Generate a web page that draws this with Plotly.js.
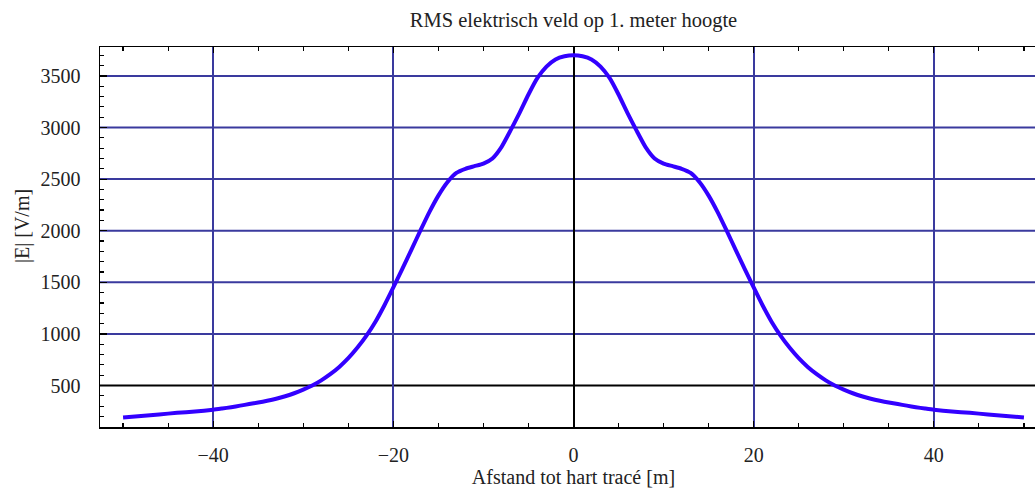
<!DOCTYPE html>
<html>
<head>
<meta charset="utf-8">
<script src="https://cdn.plot.ly/plotly-3.0.1.min.js"></script>
<style>
html, body { margin: 0; padding: 0; overflow: hidden; background: #fff; }
#chart { width: 1047px; height: 490px; }
</style>
</head>
<body>
<div id="chart"></div>
<script>
// Distance from line centre [m]
const afstand = [-50, -48, -46, -44, -42, -40, -39, -38, -37, -36, -35, -34, -33, -32, -31, -30,
  -29, -28, -27, -26, -25, -24, -23, -22, -21, -20, -19, -18, -17, -16, -15, -14, -13, -12, -11,
  -10, -9, -8, -7, -6, -5, -4, -3, -2, -1, 0, 1, 2, 3, 4, 5, 6, 7, 8, 9, 10, 11, 12, 13, 14, 15,
  16, 17, 18, 19, 20, 21, 22, 23, 24, 25, 26, 27, 28, 29, 30, 31, 32, 33, 34, 35, 36, 37, 38, 39,
  40, 42, 44, 46, 48, 50];
// RMS field strength |E| [V/m]
const veldsterkte = [190, 205, 220, 235, 248, 265, 277, 290, 305, 320, 335, 352, 372, 396, 425, 460,
  500, 550, 610, 680, 765, 865, 980, 1115, 1275, 1450, 1630, 1815, 2000, 2180, 2340, 2470, 2560, 2600, 2625,
  2650, 2700, 2810, 2970, 3140, 3320, 3480, 3590, 3660, 3690, 3700, 3690, 3660, 3590, 3480, 3320, 3140, 2970, 2810, 2700, 2650, 2625, 2600, 2560, 2470, 2340,
  2180, 2000, 1815, 1630, 1450, 1275, 1115, 980, 865, 765, 680, 610, 550, 500, 460, 425, 396, 372, 352, 335, 320, 305, 290, 277,
  265, 248, 235, 220, 205, 190];
const xTicks = [-40, -20, 0, 20, 40];
const xTickText = ['\u221240', '\u221220', '0', '20', '40'];
const yTicks = [500, 1000, 1500, 2000, 2500, 3000, 3500];
const yAxisCross = 500; // horizontal axis drawn in black at this value

const fontFam = '"Liberation Serif", "Times New Roman", serif';
const txtCol = '#222';
const gridCol = '#3a3a9e';

const trace = {
  x: afstand, y: veldsterkte, type: 'scatter', mode: 'lines',
  line: { color: '#3300ff', width: 4, shape: 'spline', smoothing: 0.5 },
  hoverinfo: 'x+y'
};

const hGrid = yTicks.map(v => ({
  type: 'line', xref: 'paper', x0: 0, x1: 1, yref: 'y', y0: v, y1: v,
  line: { color: v === yAxisCross ? '#000' : gridCol, width: 2 }, layer: 'below'
}));

const layout = {
  width: 1047, height: 490,
  margin: { l: 100, r: 0, t: 47, b: 63 },
  paper_bgcolor: '#fff', plot_bgcolor: '#fff',
  showlegend: false,
  font: { family: fontFam, size: 20, color: txtCol },
  title: {
    text: 'RMS elektrisch veld op 1. meter hoogte',
    x: 0.5, xref: 'paper', xanchor: 'center',
    y: 1 - 20 / 490, yref: 'container', yanchor: 'middle',
    font: { family: fontFam, size: 20.5, color: txtCol }
  },
  xaxis: {
    range: [-52.56, 52.56],
    tickvals: xTicks, ticktext: xTickText,
    ticks: 'inside', ticklen: 6, tickwidth: 1.2, tickcolor: '#000',
    minor: { dtick: 5, tick0: 0, ticks: 'inside', ticklen: 4, tickcolor: '#000', showgrid: false },
    showline: true, linecolor: '#000', linewidth: 1.5, mirror: 'ticks',
    showgrid: true, gridcolor: gridCol, gridwidth: 2,
    zeroline: true, zerolinecolor: '#000', zerolinewidth: 2,
    ticklabelstandoff: 9,
    tickfont: { family: fontFam, size: 20, color: txtCol },
    title: { text: 'Afstand tot hart tracé [m]', standoff: 5, font: { family: fontFam, size: 20, color: txtCol } }
  },
  yaxis: {
    range: [98, 3780],
    tickvals: yTicks,
    ticks: 'inside', ticklen: 7, tickwidth: 1.2, tickcolor: '#000',
    minor: { dtick: 100, tick0: 0, ticks: 'inside', ticklen: 4, tickcolor: '#000', showgrid: false },
    showline: true, linecolor: '#000', linewidth: 1.5, mirror: 'ticks',
    showgrid: false,
    zeroline: false,
    ticklabelstandoff: 14,
    tickfont: { family: fontFam, size: 20, color: txtCol }
  },
  shapes: hGrid,
  annotations: [{
    text: '|E| [V/m]', textangle: -90, showarrow: false,
    xref: 'paper', x: (22 - 100) / 947, xanchor: 'center',
    yref: 'paper', y: (427 - 226) / 380, yanchor: 'middle',
    font: { family: fontFam, size: 20, color: txtCol }
  }]
};

Plotly.newPlot('chart', [trace], layout, { displayModeBar: false, staticPlot: true });
</script>
</body>
</html>
